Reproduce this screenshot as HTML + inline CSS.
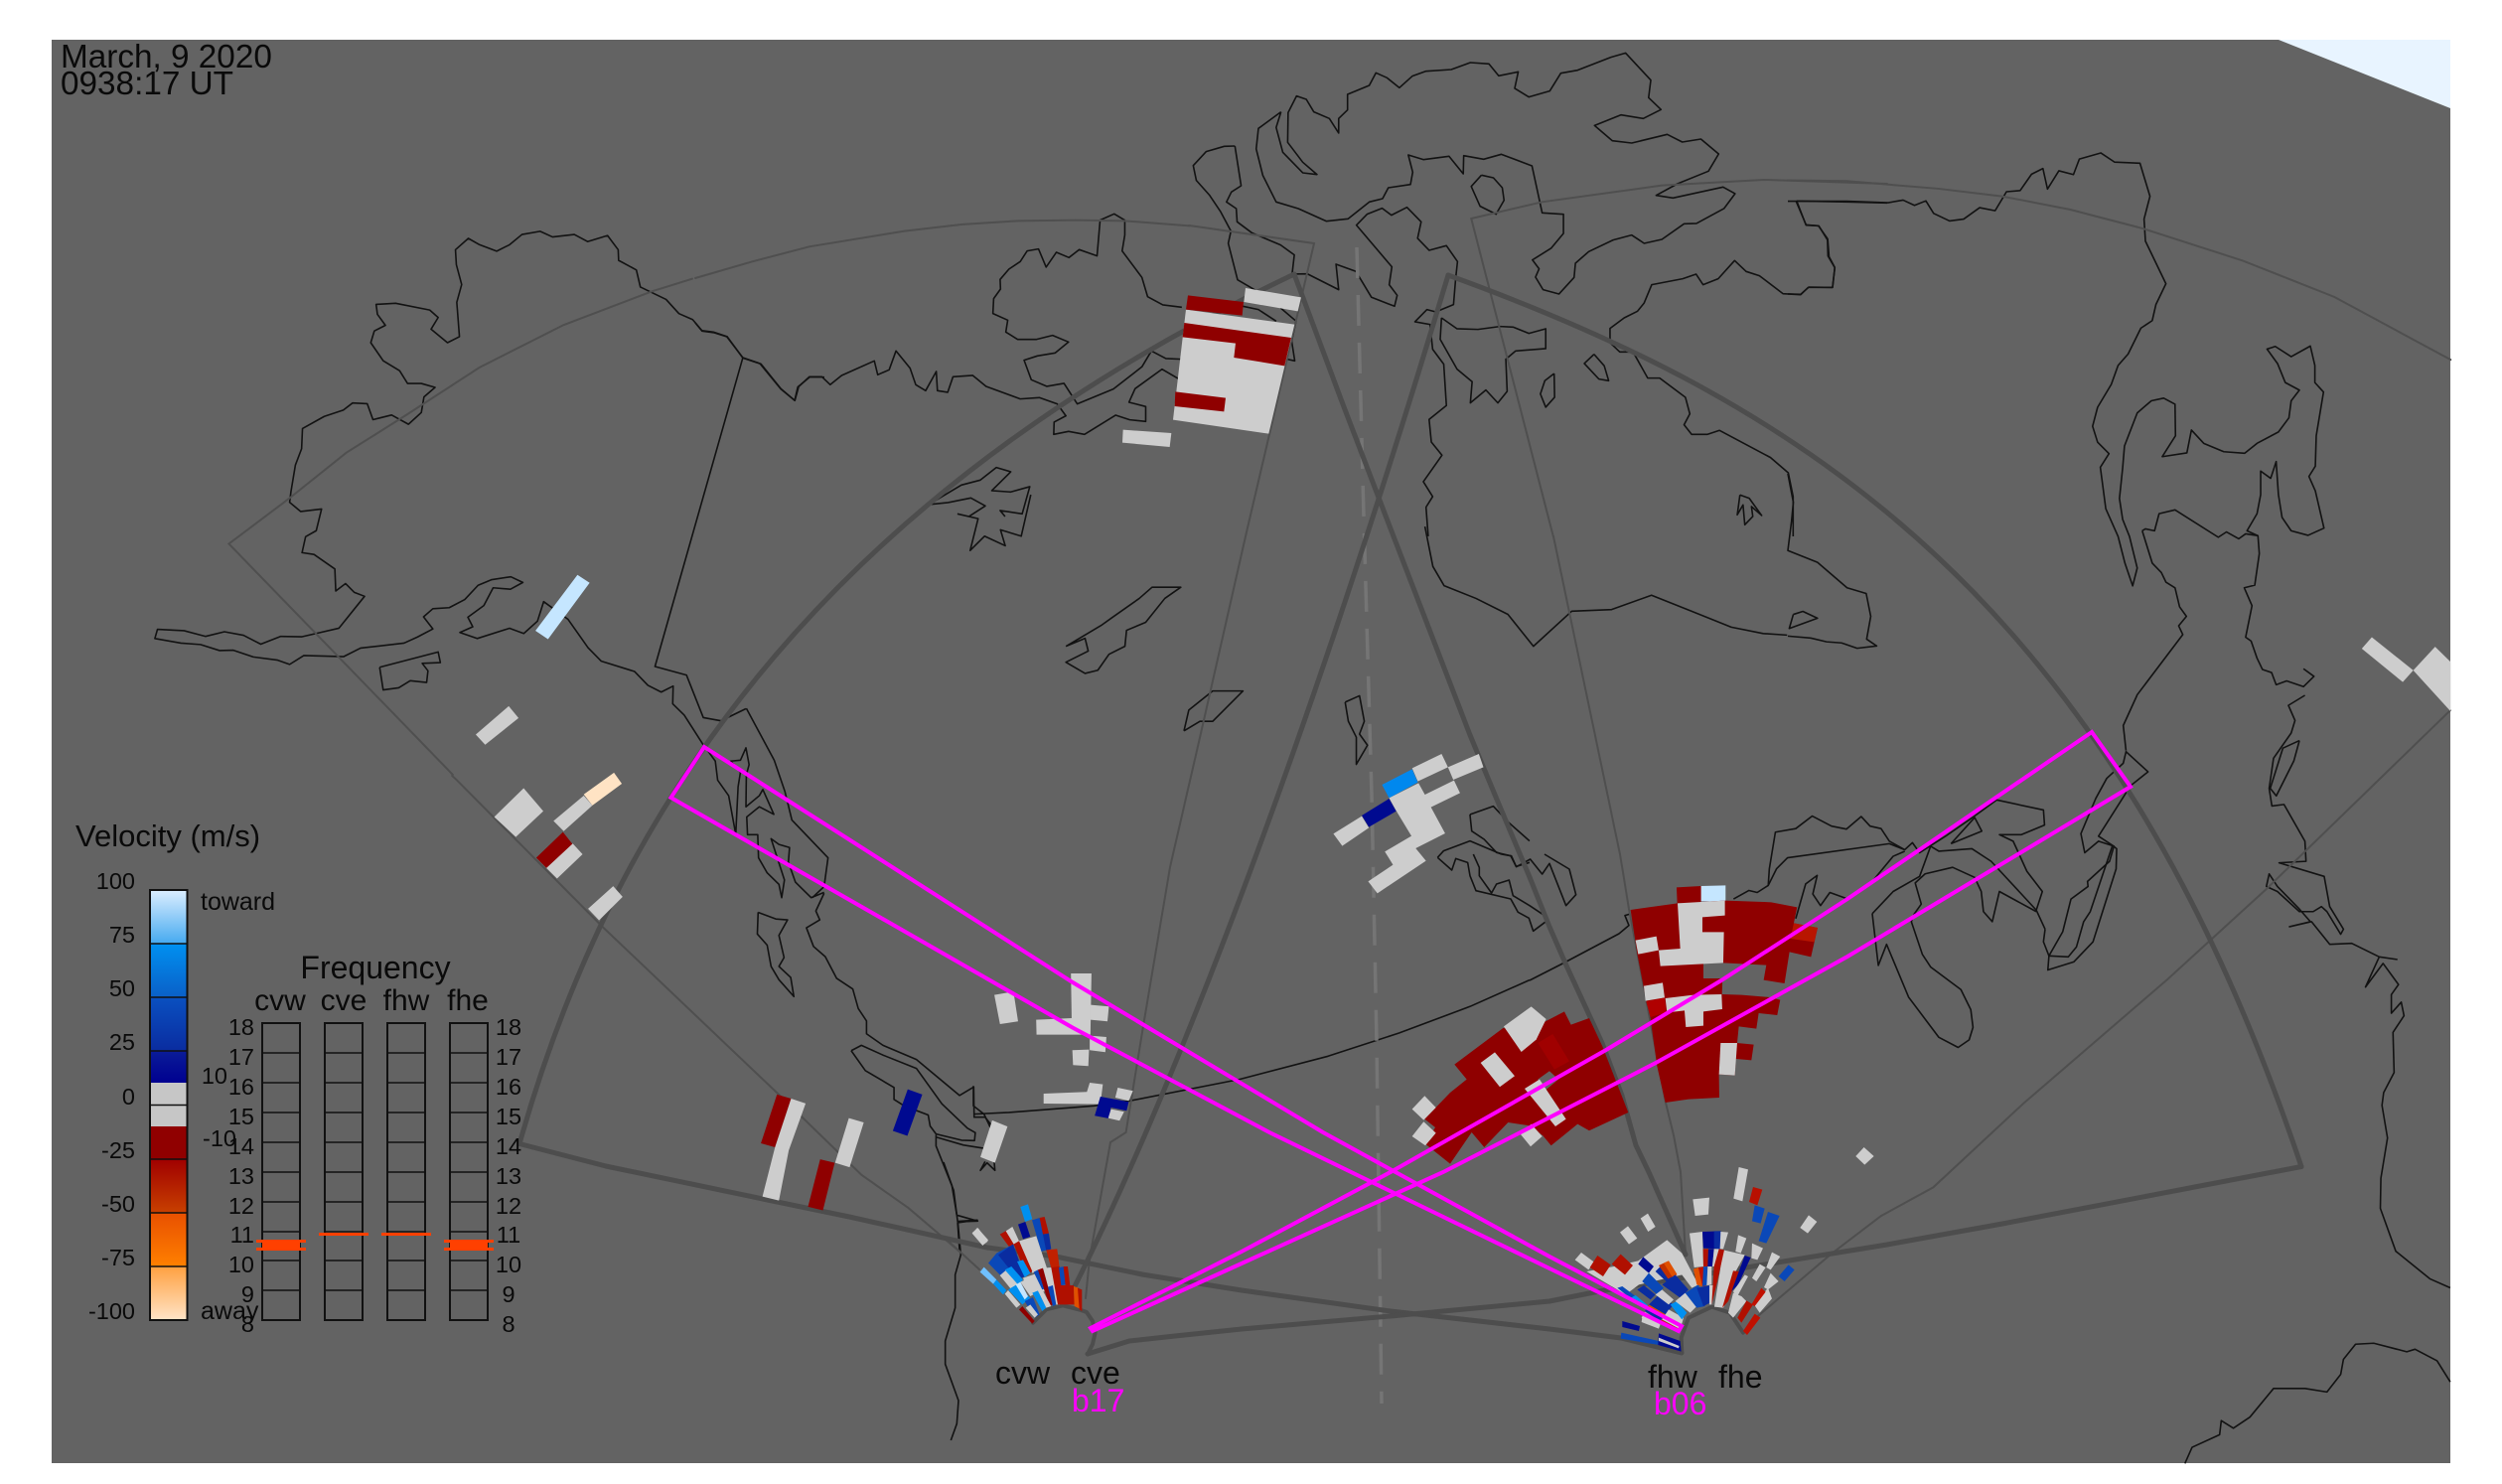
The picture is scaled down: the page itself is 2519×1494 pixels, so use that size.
<!DOCTYPE html>
<html><head><meta charset="utf-8"><style>
html,body{margin:0;padding:0;background:#fff;overflow:hidden}
svg{display:block}
text{font-family:"Liberation Sans",sans-serif;fill:#0a0a0a}
.k polyline{fill:none;stroke:#121212;stroke-width:1.6;vector-effect:non-scaling-stroke;stroke-linejoin:round}
.t polyline{fill:none;stroke:#4f4f4f;stroke-width:2;vector-effect:non-scaling-stroke;stroke-linecap:round}
.h polyline,.h path{fill:none;stroke:#4d4d4d;stroke-width:5;vector-effect:non-scaling-stroke;stroke-linecap:round;stroke-linejoin:round}
.m polygon{fill:none;stroke:#ff00ff;stroke-width:4;stroke-linejoin:miter}
.g{fill:#cdcdcd}.r{fill:#8f0000}.R{fill:#b01000}.n{fill:#000a90}.b{fill:#0a48b8}.d{fill:#0a2ca0}.l{fill:#0090f0}.w{fill:#70c0ff}.o{fill:#e05000}.c{fill:#c5e6ff}.y{fill:#ffe3c4}
.s{font-size:23.5px}
</style></head><body>
<svg width="2519" height="1494" viewBox="0 0 2519 1494" xmlns="http://www.w3.org/2000/svg">
<defs>
<linearGradient id="a" x1="0" y1="0" x2="0" y2="1"><stop offset="0" stop-color="#dceeff"/><stop offset="1" stop-color="#46aaf0"/></linearGradient>
<linearGradient id="b" x1="0" y1="0" x2="0" y2="1"><stop offset="0" stop-color="#0090f0"/><stop offset="1" stop-color="#0a60c8"/></linearGradient>
<linearGradient id="c" x1="0" y1="0" x2="0" y2="1"><stop offset="0" stop-color="#0a50c0"/><stop offset="1" stop-color="#0a2ca0"/></linearGradient>
<linearGradient id="d" x1="0" y1="0" x2="0" y2="1"><stop offset="0" stop-color="#0a1c98"/><stop offset="1" stop-color="#000090"/></linearGradient>
<linearGradient id="e" x1="0" y1="0" x2="0" y2="1"><stop offset="0" stop-color="#a00000"/><stop offset="1" stop-color="#c84000"/></linearGradient>
<linearGradient id="f" x1="0" y1="0" x2="0" y2="1"><stop offset="0" stop-color="#e85000"/><stop offset="1" stop-color="#ff8000"/></linearGradient>
<linearGradient id="h" x1="0" y1="0" x2="0" y2="1"><stop offset="0" stop-color="#ffa040"/><stop offset="1" stop-color="#ffe4c8"/></linearGradient>
</defs>
<rect x="52" y="40" width="2415" height="1433" fill="#636363"/>
<polygon points="2294,40 2467,40 2467,109" fill="#e8f4ff"/>

<g class="k">
<g transform="translate(130,220) scale(.4464,.3571)">
<polyline points="1384,393 1349,333 1318,320 1292,316 1271,285 1240,268 1211,228 1153,193 1144,145 1104,118 1103,88 1079,48 1034,65 1004,45 955,52 927,36 886,45 858,74 829,92 789,73 765,56 736,88 738,130 750,186 739,236 745,333 718,350 681,312 697,279 678,258 601,239 557,242 560,270 578,301 553,317 545,350 573,401 610,429 628,465 659,465 690,476 665,503 659,547 630,580 592,554 550,567 537,522 504,520 483,540 440,558 391,592 389,649 375,695 365,770 362,800 387,826 434,819 422,880 398,897 390,942 417,947 464,988 466,1050 488,1029 508,1054 531,1065 473,1155 390,1179 342,1178 297,1200 258,1175 215,1165 172,1178 124,1162 64,1158 58,1184 117,1197 161,1201 204,1218 235,1217 280,1236 335,1245 362,1257 394,1232 484,1235 522,1211 620,1197 650,1180 685,1157 664,1123 685,1100 722,1097 757,1074 787,1034 818,1018 861,1010 888,1026 860,1045 821,1041 800,1091 764,1124 775,1151 746,1167 785,1184 858,1155 890,1170 921,1135 935,1080 990,1130 1035,1210 1065,1248 1140,1277 1170,1316 1200,1335 1227,1318 1226,1368 1252,1400 1297,1488"/>
<polyline points="565,1265 697,1222 702,1252 661,1254 674,1275 671,1308 634,1303 608,1323 573,1329 565,1265"/>
<polyline points="1384,393 1186,1263 1257,1287 1295,1407 1335,1416 1391,1382"/>
<polyline points="1384,393 1425,410 1470,480 1501,513 1508,475 1535,447 1568,447"/>
</g>
<g transform="translate(460,560) scale(.3954,.4464)">
<polyline points="630,428 658,462 664,505 692,540 710,627 716,520 722,487 697,462 722,460 736,432 744,470 737,493 736,565 770,540 779,526 807,582 770,565 738,588 740,628 766,628 768,680 790,714 820,740 827,770 834,730 800,637 820,650 847,657 844,690 862,735 902,770 935,758"/>
<polyline points="737,343 808,460 835,530 853,595 945,680 935,745 905,770"/>
<polyline points="935,760 914,800 924,820 890,838 908,880 938,903 967,952 1008,976 1022,1020 1043,1048 1043,1077 1085,1103 1170,1135 1280,1216 1316,1197 1317,1265 1345,1265 1360,1282 1370,1385 1350,1368 1333,1385 1345,1365"/>
<polyline points="1004,1115 1030,1103 1085,1125 1170,1155 1235,1235 1300,1290 1320,1300 1318,1318 1285,1317 1220,1303 1205,1285 1200,1260 1140,1240 1113,1225 1113,1198 1040,1160 1004,1115"/>
<polyline points="1220,1305 1220,1330 1265,1430 1275,1500 1325,1497 1275,1503 1280,1568"/>
<polyline points="1220,1310 1290,1328 1340,1335"/>
<polyline points="767,803 812,818 842,820 820,855 833,905 820,925 850,950 858,993 820,955 800,925 790,877 765,852 767,803"/>
</g>
<g transform="translate(950,1150) scale(.3333)">
<polyline points="0,60 25,130 40,220 103,238 43,240 52,340 35,400 35,500 5,600 5,670 45,780 40,850 22,900"/>
</g>
<g transform="translate(700,60) scale(.3827,.3333)">
<polyline points="0,795 18,820 50,825 83,837 125,900 170,918 225,995 262,1030 272,988 300,958 333,958 355,982 385,954 471,910 480,952 510,937 528,880 565,932 580,982 606,1000 634,942 637,1000 664,1005 678,958 730,954 765,987 855,1025 905,1021 952,1040 975,1076 944,1095 943,1132 982,1123 1024,1132 1106,1074 1143,1088 1185,1093 1185,1048 1141,1035 1157,994 1228,935 1280,970"/>
<polyline points="1280,905 1238,903 1200,880 1175,928 1100,995 1005,1040 970,978 925,987 884,967 865,908 900,895 947,886 982,853 940,833 898,845 848,845 817,823 822,787 783,767 785,722 803,693 802,664 825,633 855,610 873,578 903,572 923,627 950,582 983,598 1010,574 1057,593 1065,485 1102,466 1130,485 1130,530 1123,578 1175,658 1190,716 1230,741 1280,748"/>
<polyline points="614,1344 700,1285 750,1270 792,1232 830,1245 780,1302 830,1306 880,1290 860,1372 802,1362 815,1380"/>
<polyline points="614,1344 665,1338 725,1324 763,1348 720,1380"/>
</g>
<g transform="scale(1.6065)">
<polyline points="600,322 613,325 608,345 617,336 630,342 627,332 640,336 646,310"/>
<polyline points="668,405 680,400 682,408 668,415 680,422 688,420 695,410 705,405 706,395 718,390 730,375 740,368 722,368 714,375 697,387 690,392 668,405"/>
<polyline points="742,458 745,445 760,433 779,433 770,442 760,452 752,452 742,458"/>
<polyline points="1120,398 1105,397 1085,393 1060,383 1035,373 1010,382 985,383 961,405 945,385 925,375 905,367 898,355 893,330"/>
<polyline points="843,440 852,436 855,452 852,460 857,467 850,479 850,462 845,452 843,440"/>
</g>
<g transform="translate(980,740) scale(.3571,.3333)">
<polyline points="1400,240 1466,215 1510,265 1568,320"/>
<polyline points="1400,240 1405,290 1440,315 1475,355 1515,365 1530,397 1568,385"/>
<polyline points="0,1145 100,1140 340,1120 440,1105 750,1040 1000,970 1200,900 1400,820 1568,740"/>
<polyline points="0,1060 0,1120 30,1145 50,1190"/>
</g>
<g transform="translate(1400,860) scale(.3333)">
<polyline points="142,10 185,48 197,13 233,25 240,65 258,110 363,135 385,175 418,193 431,232 467,205"/>
<polyline points="250,0 268,40 268,65 305,117 320,90 358,78 370,125 420,155 465,185"/>
<polyline points="335,0 365,5 380,38 422,15 458,60 480,28 530,155 560,122 540,45 465,0"/>
<polyline points="142,10 160,-10 240,-40 335,0"/>
<polyline points="420,381 520,330 690,240 720,215 708,185 725,180"/>
</g>
<g transform="translate(1200,40) scale(.4464,.3333)">
<polyline points="97,321 73,322 32,338 3,380 10,425 40,470 65,520 88,578 82,615 103,725 150,762"/>
<polyline points="97,321 111,441 89,460 78,490 100,510 102,550 135,583 200,620 231,650 226,708 260,707 331,755 325,678 370,700 405,778 457,805 463,772 445,740 451,686 371,560 395,527 429,509 450,530 485,506 517,550 509,600 535,636 574,622 599,670 595,720 590,800 550,822 530,815 503,852 537,860 543,935 568,980 574,1105 535,1147 540,1215 564,1255 522,1335 543,1380 528,1412 533,1500"/>
<polyline points="115,805 150,815 190,850"/>
<polyline points="200,810 235,850 225,910 232,970 215,965"/>
<polyline points="563,840 598,873 645,875 695,866 725,868 760,887 798,873 798,933 730,940 708,965 711,1062 690,1097 663,1058 628,1097 632,1033 598,995 560,905 563,840"/>
<polyline points="201,218 150,268 145,330 160,410 190,490 240,510 303,548 352,541 400,490 430,480 443,447 493,437 498,400 488,348 522,362 580,352 612,405 613,350 658,361 698,346 767,381 790,523 838,527 838,585 810,630 768,665 783,692 775,717 792,755 828,768 862,718 865,675 895,640 950,605 992,590 1020,615 1060,603 1110,556 1138,555 1200,510 1225,465 1198,445 1085,478 1047,470 1095,435 1165,397 1188,345 1148,300 1106,309 1072,286 992,312 948,305 908,259 968,227 1018,238 1058,211 1030,175 1035,122 978,40 945,53 870,92 832,101 807,155 760,173 728,147 736,97 692,109 670,73 628,69 585,90 528,95 497,110 468,145 440,115 415,100 400,138 351,165 351,212 331,238 331,282 310,238 275,218 258,180 236,170 217,220 216,310 250,370 282,407 250,402 205,340 190,265 201,218"/>
<polyline points="653,409 680,417 700,447 704,485 686,527 650,503 630,443 653,409"/>
<polyline points="1364,487 1385,560 1413,562 1434,602 1437,655 1450,688 1445,748 1390,748 1373,770 1333,767 1280,713 1250,700 1224,667 1187,722 1153,740 1137,708 1107,722 1037,740 1020,795 1005,820 975,840 943,872 943,915 965,943 995,943 1028,1022 1055,1022 1113,1080 1123,1130 1110,1163 1127,1192 1163,1192 1190,1180 1305,1262 1345,1308 1356,1380 1356,1500"/>
<polyline points="1364,487 1480,490 1568,493"/>
<polyline points="907,950 885,978 918,1025 940,1030 930,985 907,950"/>
<polyline points="817,1008 796,1030 786,1070 798,1110 818,1080 817,1008"/>
<polyline points="1236,1375 1257,1385 1285,1437 1262,1410 1265,1440 1247,1465 1243,1405 1230,1435 1236,1375"/>
</g>
<g transform="translate(1800,100) scale(.4586,.3827)">
<polyline points="0,985 12,1060 8,1110 0,1187 65,1218 130,1285 172,1300 182,1360 173,1420 195,1438 152,1444 118,1430 85,1427 50,1417 0,1412"/>
<polyline points="12,1355 33,1347 65,1365 3,1392 12,1355"/>
<polyline points="0,268 18,268 40,330 68,333 87,370 88,412 103,443 98,495 46,494 28,513 0,512"/>
<polyline points="18,268 130,268 220,272 253,265 278,279 303,267 320,300 355,320 386,315 421,285 455,293 480,243 510,240 535,197 560,182 570,236 595,188 627,198 640,157 687,141 717,165 773,168 795,255 782,315 785,373 830,485 808,540 800,582 775,602 747,670 725,700 710,750 680,810 669,860 680,902 705,932 686,968 698,1077 725,1150 740,1220 757,1280 767,1233 750,1150 735,1105 728,1050 735,970 739,912 767,825 798,793 825,786 850,802 851,885 822,940 876,930 886,870 913,905 957,927 1003,931 1030,905 1077,875 1100,838 1105,793 1123,765 1092,745 1075,695 1052,657 1070,650 1105,677 1147,649 1157,700 1157,745 1176,770 1160,885 1158,965 1144,992 1158,1030 1177,1128 1142,1147 1105,1135 1085,1100 1077,1040 1072,953 1060,997 1038,978 1038,1040 1030,1090 1008,1135 1032,1148 1035,1195 1025,1278 1002,1285 1019,1332 1005,1415 1017,1425 1030,1470 1042,1500 1062,1508 1072,1540 1095,1530 1132,1545 1155,1518 1132,1498"/>
<polyline points="778,1135 785,1130 805,1135 815,1090 850,1080 945,1152 963,1138 990,1156 1005,1143 1032,1148"/>
<polyline points="778,1135 800,1220 820,1245 830,1270 850,1285 860,1335 875,1360 858,1385 867,1408 766,1568"/>
</g>
<g transform="translate(1650,700) scale(.5542,.5064)">
<polyline points="172,405 200,388 215,392 235,378 237,345 248,272 285,265 315,240 350,260 377,266 404,241 420,260 440,265 455,290 483,307 497,293 510,313 560,278 610,240 650,208 735,228 737,258 695,277 655,277 680,290 705,350 733,390 722,427 738,465"/>
<polyline points="235,378 250,345 270,323 455,295 483,307"/>
<polyline points="285,444 303,375 324,358 316,395 330,418 347,392 380,405 424,370 462,320 483,310"/>
<polyline points="424,434 435,537 450,495 490,600 545,680 580,700 600,685 607,660 603,625 585,585 530,540 515,515 495,450 500,435"/>
<polyline points="424,434 462,390 510,360 530,300 545,310 605,305 640,330 722,427"/>
<polyline points="500,435 513,415 502,373 520,355 570,342 610,362 622,390 626,430 642,450 655,390 722,430"/>
<polyline points="567,295 610,243 623,270 567,295"/>
<polyline points="738,465 735,490 745,518 780,520 795,500 808,450 820,430 860,300"/>
<polyline points="893,180 925,152 885,112 880,135 850,165 830,205 803,275 810,313 835,290 863,300 855,330 815,370 816,380 785,405 770,470 745,518"/>
<polyline points="885,110 880,60 905,0"/>
<polyline points="893,180 835,280 860,298 868,305 867,345 825,490 790,530 743,546 745,518"/>
<polyline points="1210,0 1180,20 1192,50 1185,75 1153,125 1145,185 1150,220 1172,217 1210,290 1212,330 1163,333 1245,360 1255,420 1280,465 1275,475 1250,430 1240,420 1225,430 1200,430 1160,390 1140,380 1145,355 1160,380 1200,425 1220,450 1182,460 1222,450 1255,495 1295,493 1345,520 1377,525 1345,520 1320,580 1352,533 1380,575 1367,595 1367,632 1385,610 1390,637 1370,670 1372,750 1353,790 1350,815 1360,880 1348,960 1347,1020 1375,1105 1437,1160 1474,1178"/>
<polyline points="1200,90 1170,105 1147,185 1158,200 1190,130 1200,90"/>
<polyline points="992,1527 1005,1495 1055,1470 1058,1442 1080,1457 1110,1435 1153,1378 1210,1378 1250,1385 1275,1350 1280,1320 1302,1290 1335,1288 1395,1305 1410,1300 1450,1323 1474,1365"/>
</g>
</g>

<polyline points="1366,249 1373,520 1381,800 1386,1050 1391,1413" fill="none" stroke="#757575" stroke-width="3.5" stroke-dasharray="31,17"/>

<g class="t">
<g transform="translate(130,220) scale(.4464,.3571)"><polyline points="730,1568 225,917 360,790 490,660 630,550 790,420 980,300 1180,205 1270,170"/></g>
<g transform="translate(700,60) scale(.3827,.3333)"><polyline points="0,660 150,610 300,565 550,518 700,498 850,487 1000,485 1130,487 1300,502"/></g>
<polyline points="1197,227 1323,245 1254,540 1208.6,740 1178,873 1151,1033 1133.6,1140 1118,1150 1097,1267 1093,1307"/>
<g transform="translate(460,560) scale(.3954,.4464)"><polyline points="-12,495 0,505 370,835 815,1210 1030,1395 1150,1470 1280,1568"/></g>
<polyline points="950,1245 986,1278"/>
<g transform="translate(1200,40) scale(.4464,.3333)"><polyline points="815,1500 630,540 790,490 1060,440 1290,423 1568,435"/></g>
<polyline points="1564,540 1631,860 1640,915 1677,1110 1685,1143 1692,1180 1697,1263"/>
<g transform="translate(1800,100) scale(.4586,.3827)"><polyline points="0,213 130,215 330,235 470,255 620,290 780,340 1000,425 1200,520 1455,685"/></g>
<g transform="translate(1650,700) scale(.5542,.5064)"><polyline points="1474,30 1140,385 960,565 700,810 535,978 440,1035 350,1110 210,1240"/></g>
</g>

<g class="h">
<path d="M523,1151.5 C634.5,755 885.5,475 1303,276"/>
<polyline points="1303,276 1352,407 1403,540 1480,740 1505,800 1540,883 1560,933 1577,972 1613,1050 1633,1103 1647,1153 1660,1180 1697,1263"/>
<polyline points="523,1151.5 610,1174 768,1207 855,1225 994,1256 1063,1265 1150,1283 1250,1299 1400,1320 1560,1338 1632,1347 1693,1362"/>
<path d="M1082,1295 C1184,1091 1316,750 1458,277"/>
<path d="M1458,277 C1816.6,407 2125,602.5 2317,1174.5"/>
<polyline points="2317,1174.5 2016,1232 1900,1253 1703,1285 1610,1300 1560,1310 1400,1325 1250,1338 1183,1345 1137,1350 1095,1363"/>
<g transform="translate(950,1150) scale(.3333)"><polyline points="270,545 310,505 360,493 415,507 432,513 450,540 458,575 450,610 435,640" style="stroke-width:4"/></g>
<g transform="translate(1560,1150) scale(.3333)"><polyline points="400,635 398,590 420,530 490,497 545,515 585,575" style="stroke-width:4"/></g>
</g>

<!-- cells -->
<g transform="translate(1100,280) scale(.3333)">
<polygon class="g" points="282,95 610,140 532,470 243,428"/>
<polygon class="r" points="288,52 456,72 452,113 282,95"/>
<polygon class="g" points="462,30 630,58 620,100 457,72"/>
<polygon class="r" points="277,135 600,180 580,265 427,240 432,197 272,178"/>
<polygon class="r" points="250,343 402,362 397,403 248,387"/>
<polygon class="g" points="92,458 238,468 233,510 90,497"/>
</g>
<g transform="translate(460,560) scale(.3954,.4464)">
<polygon class="c" points="307,42 338,60 232,187 200,168"/>
<polygon class="g" points="132,338 157,365 72,425 48,402"/>
<polygon class="g" points="170,523 220,575 150,633 95,588"/>
<polygon class="y" points="400,488 420,513 345,562 323,537"/>
<polygon class="g" points="323,540 345,562 272,620 246,597"/>
<polygon class="r" points="270,622 295,650 228,703 202,680"/>
<polygon class="g" points="295,648 320,672 255,727 228,703"/>
<polygon class="g" points="398,744 422,768 362,821 334,795"/>
<polygon class="r" points="815,1214 851,1223 810,1333 774,1324"/>
<polygon class="g" points="851,1223 888,1234 845,1340 820,1453 778,1444 810,1333"/>
<polygon class="g" points="998,1267 1036,1277 1000,1378 963,1368"/>
<polygon class="r" points="925,1360 962,1368 932,1475 894,1467"/>
<polygon class="n" points="1148,1202 1185,1214 1147,1307 1110,1296"/>
<polygon class="g" points="1363,1272 1402,1286 1370,1368 1333,1355"/>
<polygon class="g" points="1313,1525 1327,1515 1352,1545 1340,1553"/>
</g>
<g transform="translate(980,740) scale(.3571,.3333)">
<polygon class="g" points="59,785 113,775 126,865 75,873"/>
<polygon class="g" points="275,720 333,720 330,905 178,905 177,860 277,855"/>
<polygon class="g" points="330,815 382,820 378,865 330,860"/>
<polygon class="g" points="328,908 375,912 372,958 328,952"/>
<polygon class="g" points="279,952 326,950 324,1000 281,997"/>
<polygon class="g" points="198,1083 320,1078 328,1050 365,1055 358,1115 198,1113"/>
<polygon class="n" points="358,1092 438,1108 432,1135 388,1125 382,1158 342,1150"/>
<polygon class="g" points="407,1065 450,1075 438,1105 400,1095"/>
<polygon class="g" points="388,1130 425,1138 412,1165 380,1157"/>
<polygon class="g" points="1237,100 1320,57 1338,97 1253,140"/>
<polygon class="g" points="1338,97 1425,57 1438,97 1353,135"/>
<polygon fill="#0088ee" points="1152,150 1237,103 1253,143 1172,190"/>
<polygon class="g" points="1172,190 1255,145 1273,180 1355,137 1372,175 1290,218 1330,297 1247,342 1276,380 1139,478 1113,442 1183,392 1160,352 1235,305 1190,225"/>
<polygon class="n" points="1095,243 1172,192 1192,230 1115,278"/>
<polygon class="g" points="1015,298 1095,245 1115,280 1040,335"/>
</g>
<g transform="translate(1800,100) scale(.4586,.3827)">
<polygon class="g" points="1282,1415 1373,1502 1350,1533 1260,1445"/>
<polygon class="g" points="1373,1502 1421,1440 1455,1480 1455,1610"/>
</g>
<g transform="translate(1400,860) scale(.3333)">
<polygon class="r" points="864,100 938,96 938,145 866,148"/>
<polygon class="c" points="938,96 1012,94 1012,142 938,142"/>
<polygon class="r" points="725,168 867,148 1010,140 1150,145 1228,160 1218,208 1290,222 1270,310 1205,295 1190,390 1127,380 1135,335 1005,328 945,328 945,375 1003,375 1001,423 1060,425 1145,432 1177,440 1168,486 1112,480 1105,527 1052,520 1047,570 1097,575 1090,622 1043,618 1040,668 992,665 993,735 900,740 830,750 805,640 785,495 770,430 745,300"/>
<polygon class="g" points="867,148 1010,140 1010,185 942,190 942,235 1007,235 1005,328 815,338 810,290 875,285"/>
<polygon class="g" points="740,260 803,248 810,290 748,302"/>
<polygon class="g" points="765,398 822,388 828,433 770,443"/>
<polygon class="g" points="830,435 915,425 1000,423 1002,468 945,475 945,518 892,522 888,472 835,478"/>
<polygon class="g" points="997,570 1047,570 1040,668 992,665"/>
<polygon fill="#b00000" points="772,445 828,433 832,478 785,492"/>
<polygon fill="#b81500" points="1218,208 1290,222 1280,265 1208,255"/>
<path class="r" fill-rule="evenodd" d="M193,635 340,525 420,530 525,475 545,515 600,495 640,580 718,780 600,835 565,815 485,880 460,850 420,820 355,810 283,885 245,840 180,935 105,875 135,825 103,800 180,720 230,680Z M445,680 480,655 507,680 465,715Z"/>
<polygon class="g" points="342,520 425,460 470,498 440,560 395,597"/>
<polygon class="g" points="272,630 315,598 375,670 330,703"/>
<polygon class="g" points="405,708 450,680 530,800 498,822"/>
<polygon class="g" points="103,730 137,765 100,803 65,770"/>
<polygon class="g" points="100,808 137,842 105,880 65,852"/>
<polygon class="g" points="425,815 458,852 423,883 392,845"/>
<polygon fill="#a00000" points="445,570 490,543 540,625 495,650"/>
</g>
<g transform="translate(950,1150) scale(.3333)">
<polygon class="l" points="232,195 255,187 268,232 246,240"/>
<polygon class="n" points="225,248 247,240 262,285 240,292"/>
<polygon class="b" points="267,235 290,228 310,295 312,325 295,330"/>
<polygon class="R" points="290,228 305,225 318,275 300,278"/>
<polygon class="d" points="300,278 318,275 325,322 310,328"/>
<polygon class="R" points="170,278 197,263 220,305 200,318"/>
<polygon class="g" points="188,268 208,255 228,298 212,308"/>
<polygon class="g" points="86,275 102,258 135,295 118,312"/>
<polygon class="b" points="135,365 160,335 210,308 245,405 225,415 170,400"/>
<polygon class="d" points="165,340 210,308 245,405 225,415"/>
<polygon class="g" points="228,298 280,283 312,380 268,395"/>
<polygon class="R" points="212,308 228,298 268,390 250,400"/>
<polygon class="l" points="222,360 240,355 262,395 245,408"/>
<polygon class="g" points="170,402 190,385 225,425 205,445"/>
<polygon class="l" points="185,385 205,375 240,415 225,430"/>
<polygon fill="#c02000" points="310,325 343,322 350,378 325,380"/>
<polygon class="g" points="300,380 325,378 350,490 330,490"/>
<polygon class="R" points="325,378 350,375 368,490 345,490"/>
<polygon class="b" points="348,378 365,375 370,430 355,432"/>
<polygon class="R" points="362,375 375,375 382,432 368,432"/>
<polygon class="R" points="358,432 393,432 395,490 365,490"/>
<polygon class="o" points="393,435 408,440 410,502 395,495"/>
<polygon class="R" points="405,440 418,445 418,510 410,505"/>
<polygon class="g" points="240,410 285,395 305,450 270,460 250,440"/>
<polygon class="b" points="272,392 285,385 310,440 298,445"/>
<polygon class="r" points="285,385 300,380 330,490 320,495"/>
<polygon class="b" points="315,437 330,432 340,490 330,495"/>
<polygon class="w" points="110,392 122,377 160,415 150,428"/>
<polygon class="l" points="150,428 160,415 190,447 180,460"/>
<polygon class="g" points="185,458 195,447 232,490 220,500"/>
<polygon class="l" points="195,445 220,430 262,470 238,490"/>
<polygon class="c" points="218,430 232,422 255,465 245,475"/>
<polygon class="g" points="232,422 270,405 298,445 262,465"/>
<polygon class="b" points="245,480 270,468 290,520 275,530"/>
<polygon class="l" points="268,455 285,448 310,500 298,510"/>
<polygon class="g" points="285,448 298,445 325,495 310,500"/>
<polygon class="g" points="248,500 262,490 285,520 275,530"/>
<polygon class="r" points="228,505 238,495 275,540 268,548"/>
</g>
<g transform="translate(1560,1150) scale(.3333)">
<polygon class="g" points="77,355 96,333 135,362 118,385"/>
<polygon class="g" points="112,390 195,375 268,358 355,295 400,335 450,430 430,440 400,400 270,430 230,460"/>
<polygon class="R" points="122,378 145,342 185,370 162,405"/>
<polygon class="R" points="188,368 215,338 252,372 228,400"/>
<polygon class="g" points="213,272 237,253 265,290 240,308"/>
<polygon class="g" points="275,230 297,215 320,255 298,270"/>
<polygon class="n" points="268,368 283,346 315,375 300,395"/>
<polygon class="d" points="320,390 335,375 400,430 380,445"/>
<polygon fill="#c03000" points="330,372 360,358 385,400 358,412"/>
<polygon class="o" points="345,365 360,358 385,398 370,405"/>
<polygon class="b" points="280,420 300,395 345,440 325,460"/>
<polygon class="d" points="340,430 380,400 420,445 395,470"/>
<polygon class="b" points="205,440 220,435 260,465 250,475"/>
<polygon class="l" points="245,470 260,462 300,495 290,505"/>
<polygon class="d" points="265,445 285,432 320,460 305,475"/>
<polygon class="d" points="300,490 330,460 375,490 350,520"/>
<polygon class="g" points="320,460 340,445 375,475 360,490"/>
<polygon class="d" points="288,510 300,490 345,520 335,540"/>
<polygon class="o" points="300,490 385,540 380,548 295,500"/>
<polygon class="g" points="278,530 288,512 335,540 328,562"/>
<polygon class="g" points="340,535 360,505 405,530 395,565"/>
<polygon fill="#cc1000" points="338,535 395,565 395,575 335,545"/>
<polygon class="l" points="365,490 385,480 415,515 400,535"/>
<polygon class="g" points="380,480 410,455 445,495 425,515"/>
<polygon class="b" points="410,455 450,430 470,495 445,500"/>
<polygon class="d" points="445,440 485,432 485,485 465,495"/>
<polygon class="g" points="483,432 497,432 490,490 483,490"/>
<polygon class="g" points="423,275 462,270 465,375 437,378"/>
<polygon class="n" points="462,270 517,268 515,322 465,320"/>
<polygon class="d" points="497,268 518,268 515,322 497,320"/>
<polygon class="g" points="517,270 540,272 525,322 515,322"/>
<polygon class="R" points="464,322 480,322 478,375 465,375"/>
<polygon class="n" points="480,322 497,322 492,375 478,375"/>
<polygon class="g" points="497,322 512,322 505,375 492,375"/>
<polygon class="o" points="435,383 450,378 462,435 445,430"/>
<polygon fill="#c01000" points="450,378 465,376 470,435 462,435"/>
<polygon class="b" points="465,376 478,375 475,432 462,435"/>
<polygon class="g" points="478,375 490,375 490,430 475,432"/>
<polygon class="g" points="525,325 590,340 560,395 540,470 525,500 498,497"/>
<polygon class="R" points="512,322 528,325 507,420 490,490 497,375"/>
<polygon class="R" points="555,388 573,390 540,480 522,500"/>
<polygon class="n" points="590,342 608,348 570,430 550,450"/>
<polygon class="g" points="570,280 595,290 578,335 562,330"/>
<polygon class="g" points="590,400 600,405 565,470 555,450"/>
<polygon class="g" points="555,455 580,465 595,480 555,530 540,515"/>
<polygon class="R" points="595,478 615,490 580,545 568,530"/>
<polygon fill="#c01000" points="620,518 637,530 597,582 585,570"/>
<polygon class="g" points="660,440 672,472 635,515 618,490"/>
<polygon fill="#c01000" points="640,440 653,452 620,495 610,490"/>
<polygon class="g" points="668,395 692,420 660,445 648,438"/>
<polygon class="g" points="635,368 653,378 625,420 612,410"/>
<polygon class="g" points="672,332 697,345 668,385 655,378"/>
<polygon class="g" points="612,305 645,320 628,355 610,350"/>
<polygon class="b" points="660,210 695,222 655,305 632,298"/>
<polygon class="b" points="620,190 650,200 638,245 612,238"/>
<polygon fill="#b81000" points="615,135 643,143 628,190 603,180"/>
<polygon class="b" points="722,370 740,385 710,420 692,405"/>
<polygon class="g" points="783,220 808,240 780,275 757,258"/>
<polygon class="g" points="572,75 600,82 583,178 556,170"/>
<polygon class="g" points="433,172 483,167 480,218 440,222"/>
<polygon class="g" points="925,42 950,15 980,42 952,68"/>
<polygon class="n" points="220,540 273,555 270,570 220,558"/>
<polygon class="b" points="217,575 330,600 330,612 215,593"/>
<polygon class="n" points="330,577 395,600 398,632 328,612"/>
<polygon class="g" points="330,590 392,615 390,622 330,600"/>
<polygon class="g" points="280,530 335,550 330,563 278,543"/>
</g>

<g class="m">
<polygon points="709,752 1080,989 1332,1140 1560,1265 1693,1335 1690,1340 1560,1277 1278,1140 1080,1034.6 675.5,803"/>
<polygon points="1098,1337 1250,1260 1400,1180 1617,1057 1733,987 1860,905 2106,737 2145,792 1860,963 1667,1070 1453,1180 1250,1272 1100,1340"/>
</g>

<!-- text -->
<text x="61" y="68" font-size="33.3">March, 9 2020</text>
<text x="61" y="95" font-size="33.3">0938:17 UT</text>
<text x="76" y="852" font-size="31">Velocity (m/s)</text>

<rect x="151" y="896" width="37" height="54" fill="url(#a)"/>
<rect x="151" y="950" width="37" height="54" fill="url(#b)"/>
<rect x="151" y="1004" width="37" height="54" fill="url(#c)"/>
<rect x="151" y="1058" width="37" height="32" fill="url(#d)"/>
<rect x="151" y="1090" width="37" height="44" fill="#c6c6c6"/>
<rect x="151" y="1134" width="37" height="33" fill="#900000"/>
<rect x="151" y="1167" width="37" height="54" fill="url(#e)"/>
<rect x="151" y="1221" width="37" height="54" fill="url(#f)"/>
<rect x="151" y="1275" width="37" height="54" fill="url(#h)"/>
<g stroke="#111" stroke-width="1.5" fill="none">
<rect x="151" y="896" width="37.5" height="433" stroke-width="2"/>
<path d="M151 950H188M151 1004H188M151 1058H188M151 1112.5H188M151 1167H188M151 1221H188M151 1275H188"/>
</g>
<g class="s" text-anchor="end">
<text x="136" y="895">100</text><text x="136" y="949">75</text><text x="136" y="1003">50</text><text x="136" y="1057">25</text><text x="136" y="1112">0</text><text x="136" y="1166">-25</text><text x="136" y="1220">-50</text><text x="136" y="1274">-75</text><text x="136" y="1328">-100</text>
<text x="229" y="1091">10</text><text x="238" y="1154">-10</text>
</g>
<text x="202" y="916" font-size="25">toward</text>
<text x="202" y="1328" font-size="25">away</text>

<text x="378" y="985" font-size="32" text-anchor="middle">Frequency</text>
<g font-size="30" text-anchor="middle">
<text x="282" y="1017">cvw</text><text x="346" y="1017">cve</text><text x="409" y="1017">fhw</text><text x="471" y="1017">fhe</text>
</g>
<g fill="none" stroke="#111" stroke-width="2">
<rect x="264" y="1030" width="38" height="299"/><rect x="327" y="1030" width="38" height="299"/><rect x="390" y="1030" width="38" height="299"/><rect x="453" y="1030" width="38" height="299"/>
<path stroke-width="1.5" d="M264 1060H302M327 1060H365M390 1060H428M453 1060H491M264 1090H302M327 1090H365M390 1090H428M453 1090H491M264 1120H302M327 1120H365M390 1120H428M453 1120H491M264 1150H302M327 1150H365M390 1150H428M453 1150H491M264 1180H302M327 1180H365M390 1180H428M453 1180H491M264 1210H302M327 1210H365M390 1210H428M453 1210H491M264 1240H302M327 1240H365M390 1240H428M453 1240H491M264 1269H302M327 1269H365M390 1269H428M453 1269H491M264 1299H302M327 1299H365M390 1299H428M453 1299H491"/>
</g>
<g fill="#ff4000">
<rect x="264" y="1248" width="38" height="11"/><rect x="258" y="1248" width="50" height="3"/><rect x="258" y="1256" width="50" height="3"/>
<rect x="321" y="1241" width="50" height="3"/><rect x="384" y="1241" width="50" height="3"/>
<rect x="453" y="1248" width="38" height="11"/><rect x="447" y="1248" width="50" height="3"/><rect x="447" y="1256" width="50" height="3"/>
</g>
<g class="s" text-anchor="end">
<text x="256" y="1042">18</text><text x="256" y="1072">17</text><text x="256" y="1102">16</text><text x="256" y="1132">15</text><text x="256" y="1162">14</text><text x="256" y="1192">13</text><text x="256" y="1222">12</text><text x="256" y="1251">11</text><text x="256" y="1281">10</text><text x="256" y="1311">9</text><text x="256" y="1341">8</text>
</g>
<g class="s" text-anchor="middle">
<text x="512" y="1042">18</text><text x="512" y="1072">17</text><text x="512" y="1102">16</text><text x="512" y="1132">15</text><text x="512" y="1162">14</text><text x="512" y="1192">13</text><text x="512" y="1222">12</text><text x="512" y="1251">11</text><text x="512" y="1281">10</text><text x="512" y="1311">9</text><text x="512" y="1341">8</text>
</g>

<g font-size="32">
<text x="1002" y="1393">cvw</text><text x="1078" y="1393">cve</text>
<text x="1659" y="1397">fhw</text><text x="1730" y="1397">fhe</text>
<text x="1079" y="1421" style="fill:#ff00ff">b17</text>
<text x="1665" y="1424" style="fill:#ff00ff">b06</text>
</g>
</svg>
</body></html>
